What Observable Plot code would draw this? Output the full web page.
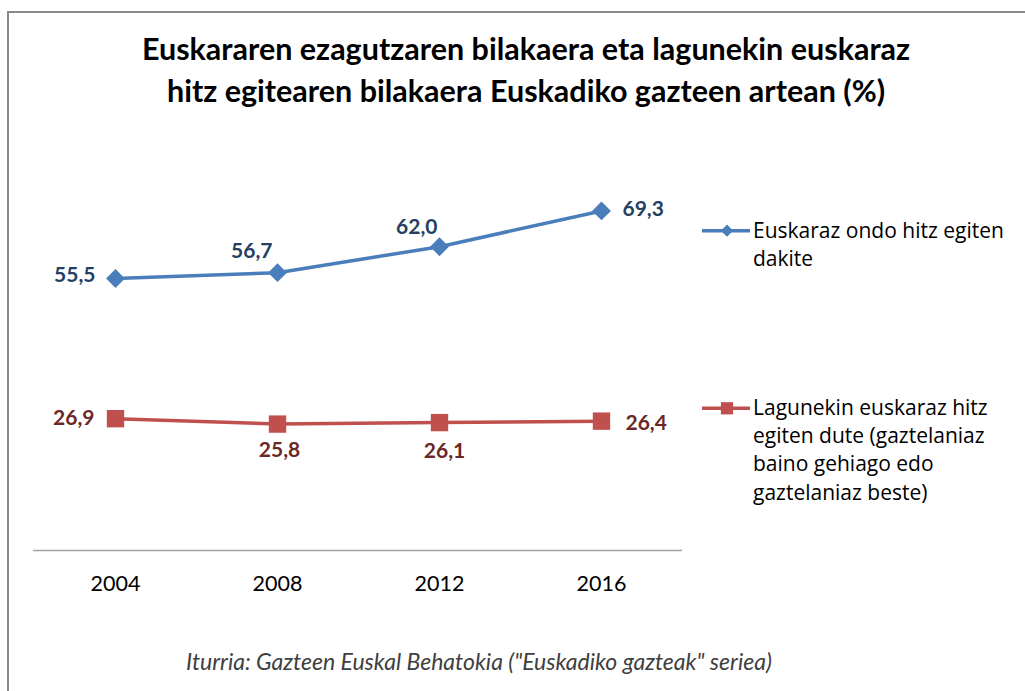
<!DOCTYPE html>
<html>
<head>
<meta charset="utf-8">
<script src="https://cdn.jsdelivr.net/npm/d3@7"></script>
<script src="https://cdn.jsdelivr.net/npm/@observablehq/plot@0.6"></script>
<style>
  html, body { margin: 0; padding: 0; background: #fff; }
  body { width: 1025px; height: 691px; overflow: hidden; position: relative; font-family: Lato, sans-serif; }
  #frame { position: absolute; left: 7px; top: 11px; width: 1100px; height: 800px; border: 2px solid #8a8a8a; box-sizing: border-box; }
  #title { position: absolute; left: 0; width: 1052px; top: 27px; text-align: center; font-weight: bold; font-size: 30.5px; line-height: 42px; color: #000; }
  #chart { position: absolute; left: 0; top: 0; }
  .leg { position: absolute; left: 753px; font-family: "Open Sans", sans-serif; font-size: 21px; line-height: 28.4px; color: #000; white-space: nowrap; }
  #legsvg { position: absolute; left: 0; top: 0; }
  #caption { position: absolute; left: 0; width: 958px; top: 648px; text-align: center; font-style: italic; font-size: 23px; line-height: 26px; color: #404040; }
</style>
</head>
<body>
<div id="frame"></div>
<div id="title"></div>
<div id="chart"></div>
<svg id="legsvg" width="1025" height="691"></svg>
<div id="leg0" class="leg" style="top:216px"></div>
<div id="leg1" class="leg" style="top:392.6px"></div>
<div id="caption"></div>
<script>
// ---- data ----
const years = ["2004", "2008", "2012", "2016"];
const knowValues = [55.5, 56.7, 62.0, 69.3];
const friendsValues = [26.9, 25.8, 26.1, 26.4];
const seriesNames = [
  "Euskaraz ondo hitz egiten dakite",
  "Lagunekin euskaraz hitz egiten dute (gaztelaniaz baino gehiago edo gaztelaniaz beste)"
];
const legendLines = [
  ["Euskaraz ondo hitz egiten", "dakite"],
  ["Lagunekin euskaraz hitz", "egiten dute (gaztelaniaz", "baino gehiago edo", "gaztelaniaz beste)"]
];
const titleLines = [
  "Euskararen ezagutzaren bilakaera eta lagunekin euskaraz",
  "hitz egitearen bilakaera Euskadiko gazteen artean (%)"
];
const captionText = "Iturria: Gazteen Euskal Behatokia (\"Euskadiko gazteak\" seriea)";

// ---- build rows ----
const know = years.map((year, i) => ({year, value: knowValues[i], series: seriesNames[0]}));
const friends = years.map((year, i) => ({year, value: friendsValues[i], series: seriesNames[1]}));

const blueLine = "#4a7ebb", redLine = "#c0504d";
const blueText = "#253f62", redText = "#6b2826";
const fmt = v => v.toFixed(1).replace(".", ",");

// label placements (style, not data)
const bluePlace = [
  {textAnchor: "end", dx: -20, dy: -3},
  {textAnchor: "end", dx: -5, dy: -21},
  {textAnchor: "end", dx: -2, dy: -19},
  {textAnchor: "start", dx: 21, dy: -2}
];
const redPlace = [
  {textAnchor: "end", dx: -21, dy: 0},
  {textAnchor: "middle", dx: 2, dy: 26},
  {textAnchor: "middle", dx: 5, dy: 29},
  {textAnchor: "start", dx: 24, dy: 2}
];

const labelMarks = (rows, place, color) => rows.map((r, i) =>
  Plot.text([r], {
    x: "year", y: "value", text: d => fmt(d.value),
    fill: color, fontWeight: "bold", fontSize: 21, fontFamily: "Lato",
    ...place[i]
  })
);

const chart = Plot.plot({
  width: 1025,
  height: 691,
  marginLeft: 33,
  marginRight: 343,
  marginTop: 158,
  marginBottom: 141,
  style: {background: "transparent", fontFamily: "Lato", color: "#000", overflow: "visible"},
  x: {type: "point", domain: years, padding: 0.5, label: null},
  y: {domain: [0, 80], axis: null},
  marks: [
    Plot.ruleY([0], {stroke: "#a3a3a3", strokeWidth: 1.5}),
    Plot.axisX({tickSize: 0, tickPadding: 25, fontSize: 21.5, fontFamily: "Lato", fill: "#000", label: null}),
    Plot.line(know, {x: "year", y: "value", stroke: blueLine, strokeWidth: 3.5}),
    Plot.line(friends, {x: "year", y: "value", stroke: redLine, strokeWidth: 3.5}),
    Plot.dot(know, {x: "year", y: "value", symbol: "diamond2", r: 8.5, fill: blueLine, stroke: "none"}),
    Plot.dot(friends, {x: "year", y: "value", symbol: "square", r: 9.8, fill: redLine, stroke: "none"}),
    ...labelMarks(know, bluePlace, blueText),
    ...labelMarks(friends, redPlace, redText)
  ]
});
document.getElementById("chart").appendChild(chart);

// ---- title, legend, caption ----
document.getElementById("title").innerHTML = titleLines.join("<br>");
document.getElementById("caption").textContent = captionText;
legendLines.forEach((lines, i) => {
  const el = document.getElementById("leg" + i);
  el.innerHTML = "";
  lines.forEach((l, j) => { if (j) el.appendChild(document.createElement("br")); el.appendChild(document.createTextNode(l)); });
  el.title = seriesNames[i];
});

// legend glyphs
const ls = d3.select("#legsvg");
const glyphs = [
  {y: 230.7, color: blueLine, sym: d3.symbolDiamond2, size: 95},
  {y: 408.3, color: redLine, sym: d3.symbolSquare, size: 150}
];
glyphs.forEach(g => {
  ls.append("line").attr("x1", 702).attr("x2", 750).attr("y1", g.y).attr("y2", g.y)
    .attr("stroke", g.color).attr("stroke-width", 3.5);
  ls.append("path").attr("d", d3.symbol(g.sym, g.size)()).attr("transform", `translate(727,${g.y})`)
    .attr("fill", g.color);
});
</script>
</body>
</html>
